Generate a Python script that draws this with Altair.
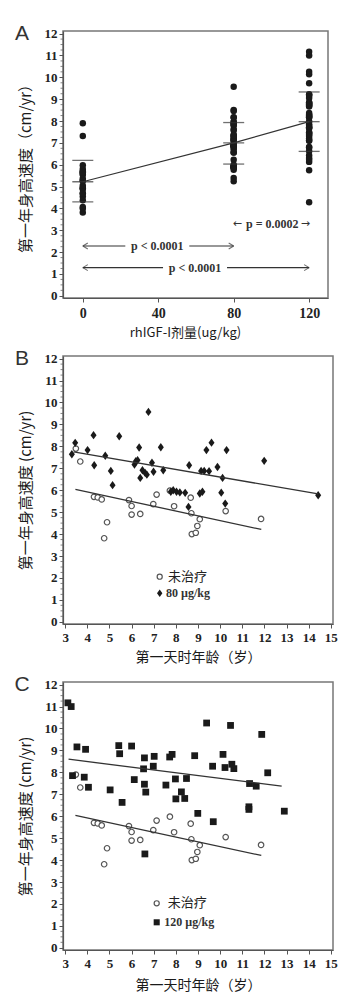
import altair as alt
import pandas as pd

# ---------------- data ----------------
panel_letters = ["A", "B", "C"]

# untreated group: age at start (years) and first-year growth velocity (cm/yr)
untreated_age = [3.48, 3.68, 4.30, 4.47, 4.65, 4.76, 4.89, 5.88, 6.00, 6.00, 6.39, 6.98,
                 7.13, 7.73, 7.92, 8.67, 8.70, 8.72, 8.90, 8.97, 9.08, 10.25, 11.85]
untreated_gv = [7.90, 7.31, 5.70, 5.67, 5.58, 3.81, 4.54, 5.55, 5.28, 4.89, 4.92, 5.37,
                5.80, 5.98, 5.27, 5.66, 4.95, 4.00, 4.06, 4.37, 4.68, 5.05, 4.69]

# 80 ug/kg group
dose80_age = [3.30, 3.45, 4.01, 4.28, 4.31, 4.81, 5.06, 5.14, 5.44, 6.13, 6.19, 6.27, 6.34,
              6.39, 6.49, 6.61, 6.69, 6.76, 6.92, 6.99, 7.32, 7.43, 7.77, 7.88, 8.03, 8.18,
              8.42, 8.57, 8.60, 9.08, 9.20, 9.14, 9.28, 9.38, 9.50, 9.61, 9.88, 10.05, 10.11,
              10.23, 10.29, 11.99, 14.43]
dose80_gv = [7.64, 8.16, 7.83, 8.51, 7.14, 7.57, 6.88, 6.23, 8.46, 7.17, 7.32, 7.37, 7.95,
             6.56, 6.91, 6.79, 6.71, 9.57, 7.25, 6.84, 7.96, 6.91, 5.93, 6.00, 5.93, 5.90,
             5.88, 5.24, 7.14, 5.85, 5.93, 6.88, 6.88, 7.83, 6.87, 8.17, 7.06, 5.89, 6.56,
             5.39, 7.83, 7.34, 5.77]

# 120 ug/kg group
dose120_age = [3.12, 3.27, 3.53, 3.92, 3.33, 3.86, 4.05, 5.03, 5.42, 5.46, 5.57, 6.00, 6.12,
               6.58, 6.54, 6.58, 6.64, 6.60, 7.02, 6.98, 7.72, 7.83, 7.55, 7.98, 8.48, 8.25,
               8.00, 8.40, 8.85, 8.99, 9.39, 9.66, 9.69, 10.13, 10.22, 10.47, 10.53, 10.62,
               11.33, 11.63, 11.30, 11.30, 11.88, 12.15, 12.90]
dose120_gv = [11.17, 11.00, 9.16, 9.05, 7.85, 7.78, 7.32, 7.20, 9.22, 8.85, 6.63, 9.20, 7.67,
              8.66, 8.16, 7.46, 7.10, 4.28, 8.73, 8.28, 8.70, 8.82, 7.42, 7.70, 7.72, 7.11,
              6.79, 6.81, 8.76, 6.13, 10.25, 8.28, 5.75, 8.82, 8.22, 10.14, 8.37, 8.17,
              7.49, 7.37, 6.43, 6.31, 9.73, 7.98, 6.23]

# fitted lines (end points)
fit0_age, fit0_gv = [3.46, 11.86], [6.04, 4.21]
fit80_age, fit80_gv = [3.38, 14.43], [7.75, 5.83]
fit120_age, fit120_gv = [3.15, 12.78], [8.60, 7.37]

# panel A summary (mean and mean +/- SD)
doses = [0, 80, 120]
dose_mean = [5.22, 7.00, 7.97]
dose_upper = [6.20, 7.93, 9.33]
dose_lower = [4.30, 6.03, 6.61]

# panel A p-value brackets
bracket_from = [0, 0]
bracket_to = [80, 120]
bracket_y = [2.28, 1.29]
bracket_label = ["p < 0.0001", "p < 0.0001"]
bracket_label_x = [39.5, 59.5]
pnote_label = ["p = 0.0002"]
pnote_x = [100.5]
pnote_y = [3.3]
pnote_arrow = ["←", "→"]
pnote_arrow_x = [82, 118]

dose_ticks = [0, 40, 80, 120]
age_ticks = list(range(3, 16))
gv_ticks = list(range(0, 13))
gv_minor = [i / 4 for i in range(0, 49) if i % 4 != 0]

legend_b = ["未治疗", "80 µg/kg"]
legend_c = ["未治疗", "120 µg/kg"]

SERIF = "Liberation Serif"
CJK = "Noto Sans CJK SC"
SANS = "Liberation Sans"
INK = "#1a1a1a"
LABEL = dict(labelFont=SERIF, labelFontWeight="bold", labelColor="#222",
             titleFont=CJK, titleFontWeight="normal", titleColor="#1a1a1a")

# ---------------- helpers ----------------
def y_enc(title):
    return alt.Y("y:Q", scale=alt.Scale(domain=[-0.1, 12.12], nice=False, zero=False),
                 axis=alt.Axis(values=gv_ticks, title=title, labelFontSize=13,
                               titleFontSize=15, titlePadding=11, **LABEL))


def minor_layer(Y):
    df = pd.DataFrame({"y": gv_minor})
    return alt.Chart(df).mark_rule(color="#666", strokeWidth=0.8).encode(
        y=Y, x=alt.value(-2.5), x2=alt.value(0))


def letter_layer(letter):
    df = pd.DataFrame({"t": [letter]})
    return alt.Chart(df).mark_text(font=SANS, fontSize=21, color="#333",
                                   align="center", baseline="middle").encode(
        x=alt.value(-41), y=alt.value(3), text="t:N")


# ---------------- panel A ----------------
XA = alt.X("x:Q", scale=alt.Scale(domain=[-10.5, 130], nice=False, zero=False),
           axis=alt.Axis(values=dose_ticks, title="rhIGF-I剂量(ug/kg)", labelFontSize=14,
                         titleFontSize=13, titlePadding=6, labelPadding=4, titleX=122,
                         **LABEL))
YA = y_enc("第一年身高速度（cm/yr）")

dots = pd.DataFrame({
    "x": [0] * len(untreated_gv) + [80] * len(dose80_gv) + [120] * len(dose120_gv),
    "y": untreated_gv + dose80_gv + dose120_gv,
})
sd = pd.DataFrame({"x": doses * 3, "y": dose_upper + dose_mean + dose_lower})
means = pd.DataFrame({"x": doses, "y": dose_mean})
brackets = pd.DataFrame({"x": bracket_from, "x2": bracket_to, "y": bracket_y})
blabels = pd.DataFrame({"x": bracket_label_x, "y": bracket_y, "t": bracket_label})
lefts = pd.DataFrame({"x": bracket_from, "y": bracket_y})
rights = pd.DataFrame({"x": bracket_to, "y": bracket_y})
pnote = pd.DataFrame({"x": pnote_x, "y": pnote_y, "t": pnote_label})
parrows = pd.DataFrame({"x": pnote_arrow_x, "y": pnote_y * 2, "t": pnote_arrow})

a_dots = alt.Chart(dots).mark_circle(size=42, color=INK, opacity=1).encode(x=XA, y=YA)
a_sd = alt.Chart(sd).mark_tick(orient="horizontal", size=21, thickness=1.3,
                               color="#333").encode(x=XA, y=YA)
a_line = alt.Chart(means).mark_line(color="#333", strokeWidth=1.2).encode(x=XA, y=YA)
a_rule = alt.Chart(brackets).mark_rule(color="#333", strokeWidth=1.1).encode(
    x=XA, x2="x2:Q", y=YA)
a_gap = alt.Chart(blabels).mark_tick(orient="horizontal", size=64, thickness=12,
                                     color="white", opacity=1).encode(x=XA, y=YA)
a_text = alt.Chart(blabels).mark_text(font=SERIF, fontWeight="bold", fontSize=12,
                                      color="#333").encode(x=XA, y=YA, text="t:N")
a_left = alt.Chart(lefts).mark_point(shape="M0,0L1,-0.6M0,0L1,0.6", size=100,
                                     color="#333", strokeWidth=1.1).encode(x=XA, y=YA)
a_right = alt.Chart(rights).mark_point(shape="M0,0L-1,-0.6M0,0L-1,0.6", size=100,
                                       color="#333", strokeWidth=1.1).encode(x=XA, y=YA)
a_pnote = alt.Chart(pnote).mark_text(font=SERIF, fontWeight="bold", fontSize=12,
                                     color="#333").encode(x=XA, y=YA, text="t:N")
a_parrow = alt.Chart(parrows).mark_text(font="DejaVu Sans", fontSize=11,
                                        color="#333").encode(x=XA, y=YA, text="t:N")

panel_a = alt.layer(minor_layer(YA), a_dots, a_sd, a_line, a_rule, a_gap, a_text,
                    a_left, a_right, a_pnote, a_parrow,
                    letter_layer(panel_letters[0])).properties(width=265, height=267)

# ---------------- panels B and C ----------------
def age_x(title_pad):
    return alt.X("x:Q", scale=alt.Scale(domain=[2.9, 15.1], nice=False, zero=False),
                 axis=alt.Axis(values=age_ticks, title="第一天时年龄（岁）", labelFontSize=13,
                               titleFontSize=14, titlePadding=title_pad, labelPadding=3,
                               **LABEL))


def scatter_panel(letter, other_age, other_gv, fit_age, fit_gv, shape, size,
                  legend_labels, leg_x, leg_y0, leg_y1, leg_tx0, leg_tx1, title_pad):
    X = age_x(title_pad)
    Y = y_enc("第一年身高速度 (cm/yr)")
    u = pd.DataFrame({"x": untreated_age, "y": untreated_gv})
    o = pd.DataFrame({"x": other_age, "y": other_gv})
    f0 = pd.DataFrame({"x": fit0_age, "y": fit0_gv})
    f1 = pd.DataFrame({"x": fit_age, "y": fit_gv})
    circ = alt.Chart(u).mark_point(shape="circle", size=30, filled=True, fill="white",
                                   stroke="#555", strokeWidth=1.2, opacity=1).encode(x=X, y=Y)
    other = alt.Chart(o).mark_point(shape=shape, size=size, filled=True, color=INK,
                                    opacity=1).encode(x=X, y=Y)
    l0 = alt.Chart(f0).mark_line(color="#333", strokeWidth=1.3).encode(x=X, y=Y)
    l1 = alt.Chart(f1).mark_line(color="#333", strokeWidth=1.3).encode(x=X, y=Y)
    leg = pd.DataFrame({"t": legend_labels})
    leg_c = alt.Chart(leg.iloc[[0]]).mark_point(shape="circle", size=26, filled=True,
                                                fill="white", stroke="#555",
                                                strokeWidth=1.2, opacity=1).encode(
        x=alt.value(leg_x), y=alt.value(leg_y0))
    leg_o = alt.Chart(leg.iloc[[1]]).mark_point(shape=shape, size=size * 0.8, filled=True,
                                                color=INK, opacity=1).encode(
        x=alt.value(leg_x), y=alt.value(leg_y1))
    leg_t0 = alt.Chart(leg.iloc[[0]]).mark_text(font=CJK, fontSize=13, color="#222",
                                                align="left", baseline="middle").encode(
        x=alt.value(leg_tx0), y=alt.value(leg_y0), text="t:N")
    leg_t1 = alt.Chart(leg.iloc[[1]]).mark_text(font=SERIF, fontWeight="bold", fontSize=12,
                                                color="#333", align="left",
                                                baseline="middle").encode(
        x=alt.value(leg_tx1), y=alt.value(leg_y1), text="t:N")
    return alt.layer(minor_layer(Y), circ, other, l0, l1, leg_c, leg_o, leg_t0, leg_t1,
                     letter_layer(letter)).properties(width=270, height=268)


DIAMOND = "M0,-1L0.72,0L0,1L-0.72,0Z"
panel_b = scatter_panel(panel_letters[1], dose80_age, dose80_gv, fit80_age, fit80_gv,
                        DIAMOND, 70, legend_b, 96.7, 220.7, 237.3, 105, 103, 6)
panel_c = scatter_panel(panel_letters[2], dose120_age, dose120_gv, fit120_age, fit120_gv,
                        "square", 46, legend_c, 93.7, 221.3, 240.3, 104.7, 101.3, 8)

chart = alt.vconcat(panel_a, panel_b, panel_c, spacing=58, bounds="flush").properties(
    padding={"left": 13, "top": 22, "right": 5, "bottom": 5},
    background="white",
).configure_view(
    stroke="#777", strokeWidth=1.5, fill="white"
).configure_axis(
    grid=False, domainColor="#555", domainWidth=1.2, tickColor="#555", tickSize=4,
    labelFont=SERIF, labelFontWeight="bold", labelColor="#222", labelPadding=2,
    titleFont=CJK, titleFontWeight="normal", titleColor="#1a1a1a"
)

chart.save("out.html", embed_options={"renderer": "svg", "actions": False})
